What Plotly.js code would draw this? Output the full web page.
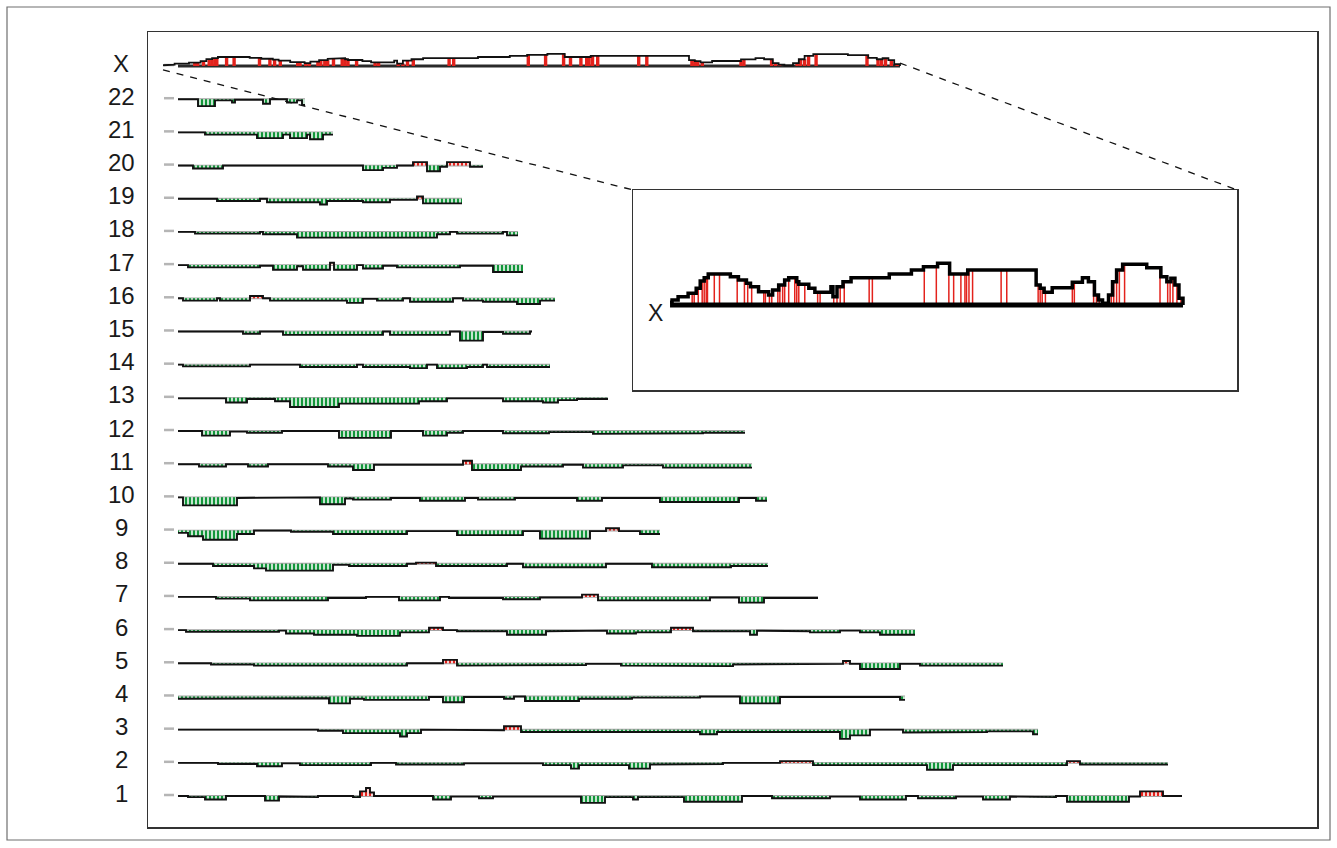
<!DOCTYPE html>
<html><head><meta charset="utf-8">
<script src="https://cdn.plot.ly/plotly-3.0.1.min.js"></script>
<style>html,body{margin:0;padding:0;background:#fff}#chart{width:1337px;height:848px}</style>
</head><body><div id="chart"></div>
<script>
// ---------- data ----------
const chromLabels = ['1','2','3','4','5','6','7','8','9','10','11','12','13','14','15','16','17','18','19','20','21','22','X'];
const chromLengths = [1019,1005,875,742,840,752,655,605,497,604,589,582,445,387,369,392,362,357,299,320,170,142,737];

// autosome profiles: breakpoints (position) and deviation per segment (+ below / - above)
const chr1Pos = [15,25,42,63,102,116,123,155,190,197,203,207,211,270,288,316,330,418,442,470,475,521,579,609,667,697,743,755,793,820,847,866,893,904,966,977,1000,1019];
const chr1Dep = [0,1,3,0,4,0.5,1,0,1,-4,-7,-3,0,3,0.5,2,0.5,6,1,3,1,5,0,2,0.5,3,0,2,0.5,3,0.5,1,0,5,0.5,-4,0];
const chr2Pos = [15,55,94,119,137,208,233,301,380,408,416,466,487,544,560,617,650,764,790,904,917,1005];
const chr2Dep = [0,1,3,0.5,2,0,1.5,0.5,2,5,2,5,1.5,1,0,-1.5,2,6,2,-1.5,1.5];
const chr3Pos = [15,94,119,155,180,237,244,258,301,341,358,537,554,677,687,707,740,790,824,870,875];
const chr3Dep = [0,0.5,0,1,3,6,3,0,0.5,-3,2,4,2,8,5,0,2.5,2,1.5,4];
const chr4Pos = [15,60,166,187,201,266,280,301,341,351,362,416,469,537,577,617,737,742];
const chr4Dep = [2,1.5,6,2,3,0.5,5,0.5,2,0,4,2,1,0,6,0.5,3];
const chr5Pos = [15,48,91,244,280,294,380,423,458,537,570,637,680,687,697,737,757,840];
const chr5Dep = [0,1,2,0,-3,2,1.5,0.5,2,2.5,1,0.5,-2,0.5,5,0.5,2];
const chr6Pos = [15,23,116,123,151,194,237,266,280,294,344,383,408,444,473,508,530,587,594,617,647,677,697,717,752];
const chr6Dep = [0,1.5,0.5,3,4,5,2,-2,0,1,4,1,0.5,3,2,-2,1,4,0.5,1,2,0.5,2,4];
const chr7Pos = [15,53,87,165,203,236,277,286,340,377,419,435,547,576,601,655];
const chr7Dep = [0,1.5,3,1,0,3,0,1,2,0.5,-2,3,0.5,5,1];
const chr8Pos = [15,50,91,103,170,186,244,253,273,344,360,443,489,568,605];
const chr8Dep = [0,2,4,6,1,2,0,-1,2,0,3,0,3,2];
const chr9Pos = [15,25,40,74,91,128,170,244,294,360,377,427,443,456,477,497];
const chr9Dep = [2,5,8,3,0,1,3,0.5,4,0.5,7,0.5,-2,0.5,3];
const chr10Pos = [15,20,74,145,157,182,190,228,257,302,315,352,414,439,497,576,593,604];
const chr10Dep = [0,7,0.5,0,6,1,2,0.5,3,0.5,2,0.5,3,0.5,4,0.5,3];
const chr11Pos = [15,36,63,85,105,165,190,211,300,309,358,400,420,460,500,589];
const chr11Dep = [0,2,0,2,0,2,5,0.5,-3,5,2,0.5,3,1,3];
const chr12Pos = [15,39,67,84,119,176,228,260,284,300,340,386,430,487,540,582];
const chr12Dep = [0,4,0.5,1.5,0,6,0,4,1.5,0,2,1,2.5,2,1.5];
const chr13Pos = [15,63,84,112,127,176,256,284,340,380,395,414,445];
const chr13Dep = [0.5,4,1,3,8,5,3,0.5,3,4,2,1];
const chr14Pos = [15,20,87,137,194,200,247,264,274,304,320,324,387];
const chr14Dep = [0,1.5,0,2,0,2,3,0,3,2,0,2];
const chr15Pos = [15,80,97,120,220,227,287,297,320,340,367,369];
const chr15Dep = [0,2,0,3,0,3,0,8,0.5,2,0];
const chr16Pos = [15,20,54,57,87,100,107,184,200,214,240,247,290,300,320,354,377,392];
const chr16Dep = [0,2,0,2,-2,0,2,4,0.5,2,0,3,0,2,3,5,2];
const chr17Pos = [15,25,97,110,134,140,167,171,194,200,220,234,297,330,360];
const chr17Dep = [0,2,0.5,4,1,4,-2,4,0,3,0.5,2,0.5,6];
const chr18Pos = [15,32,97,100,134,274,287,294,340,344,355];
const chr18Dep = [0,1.5,0,2,5,2,0,1.5,0,3];
const chr19Pos = [15,54,97,104,157,164,200,227,254,260,299];
const chr19Dep = [0,2,0,3,5,2,3,1,-2,4];
const chr20Pos = [15,30,60,200,220,234,250,264,277,284,307,320];
const chr20Dep = [0,2.5,0,4,2,0,-3,5,1,-3,1];
const chr21Pos = [15,42,94,120,127,144,147,160,170];
const chr21Dep = [0,2,5,2,5,2,6,2];
const chr22Pos = [15,35,52,69,72,100,107,124,134,139,142];
const chr22Dep = [0,6,1,3,0.5,4,0,3,1,5];

// chromosome X profile (heights) and red marker positions
const chrXPos = [0,2.9,11.6,26,37.6,43.4,49.1,54.9,86.7,98.3,109.8,115.6,127.2,141.6,147.4,156.1,164.7,170.5,182.1,185,199.4,208.1,231.2,234.1,239.9,248.5,260.1,315,346.8,364.1,384.4,401.7,427.7,526,531.8,537.5,549.1,578,592.5,601.1,609.8,615.6,621.4,630,635.8,641.6,650.3,684.9,705.2,713.8,719.6,725.4,731.2,737];
const chrXHeight = [2.7,5,8.3,11.7,16.7,24,27.3,31,28.3,25,21.7,18.3,13.3,10,15,20,25,27.3,23.3,20.7,16.7,12.7,18.3,8.3,18.3,23.3,27.3,31,35,38.3,41.7,31,35,20,16.7,12.7,17.3,22.7,27.3,23.3,10,5,1.7,10,23.3,35,40.7,37.3,28.3,23.3,26.7,20,6.7];
const chrXRed = [31.8,34.7,40.5,46.2,49.1,52,53.8,63.6,71.1,96.5,106.9,111.6,117.3,134.7,137,142.8,146.2,154.9,157.8,161.8,164.7,170.5,179.2,182.1,185,193.6,212.1,215.6,235.2,239.9,244.5,250.3,286.1,290.7,365.3,382.6,400.6,407.5,417.9,423.7,426,429.5,434.7,475.7,483.8,528.9,531.8,534.7,539.3,578,580.9,608.6,612.7,616.7,634.1,637.5,641.6,645.6,653.1,704,715,718.5,722.5,728.3,734.1];

const profilePos = [chr1Pos,chr2Pos,chr3Pos,chr4Pos,chr5Pos,chr6Pos,chr7Pos,chr8Pos,chr9Pos,chr10Pos,chr11Pos,chr12Pos,chr13Pos,chr14Pos,chr15Pos,chr16Pos,chr17Pos,chr18Pos,chr19Pos,chr20Pos,chr21Pos,chr22Pos];
const profileDep = [chr1Dep,chr2Dep,chr3Dep,chr4Dep,chr5Dep,chr6Dep,chr7Dep,chr8Dep,chr9Dep,chr10Dep,chr11Dep,chr12Dep,chr13Dep,chr14Dep,chr15Dep,chr16Dep,chr17Dep,chr18Dep,chr19Dep,chr20Dep,chr21Dep,chr22Dep];

// ---------- styling constants ----------
const GREEN = '#12963a', RED = '#e3221c';
const rowPx = 33.18;              // pixel height of one row
const depScale = 1.15 / rowPx;    // deviation unit -> row units
const xMainScale = 0.29 / rowPx;  // X height -> row units in main panel
const rowX = 23;

// ---------- build traces ----------
const base = {x: [], y: []}, prof = {x: [], y: []}, grn = {x: [], y: []}, red = {x: [], y: []}, pter = {x: [], y: []};
for (let c = 0; c < 22; c++) {
  const row = c + 1, P = profilePos[c], D = profileDep[c];
  const n = Math.min(P.length - 1, D.length);
  base.x.push(P[0], P[n], null); base.y.push(row, row, null);
  pter.x.push(1, 11, null); pter.y.push(row + 0.03, row + 0.03, null);
  for (let i = 0; i < n; i++) {
    const a = P[i], b = P[i + 1], yy = row - D[i] * depScale;
    prof.x.push(a, b); prof.y.push(yy, yy);
    if (D[i] !== 0) {
      const t = D[i] > 0 ? grn : red;
      t.x.push(a, b, b, a, a, null); t.y.push(row, row, yy, yy, row, null);
    }
  }
  prof.x.push(null); prof.y.push(null);
}
pter.x.push(1, 11, null); pter.y.push(rowX + 0.03, rowX + 0.03, null);

function hAt(p) {
  for (let i = 0; i < chrXHeight.length; i++) if (p >= chrXPos[i] && p <= chrXPos[i + 1]) return chrXHeight[i];
  return 0;
}
const xStep = {x: [], y: []};
for (let i = 0; i < chrXHeight.length; i++) { xStep.x.push(chrXPos[i], chrXPos[i + 1]); xStep.y.push(chrXHeight[i], chrXHeight[i]); }
xStep.x.push(chrXPos[chrXPos.length - 1]); xStep.y.push(0);
const xRedL = {x: [], y: []};
chrXRed.forEach(p => { xRedL.x.push(p, p, null); xRedL.y.push(0, hAt(p), null); });
const xEnd = chromLengths[22];

const traces = [
  {x: base.x, y: base.y, mode: 'lines', line: {color: '#a3a3a3', width: 1.8}, hoverinfo: 'skip'},
  {x: pter.x, y: pter.y, mode: 'lines', line: {color: '#b5b5b5', width: 2.5}, hoverinfo: 'skip'},
  {x: grn.x, y: grn.y, mode: 'lines', fill: 'toself', line: {width: 0, color: GREEN}, fillcolor: GREEN,
   fillpattern: {shape: '|', fgcolor: GREEN, bgcolor: '#ffffff', size: 4, solidity: 0.62}, hoverinfo: 'skip'},
  {x: red.x, y: red.y, mode: 'lines', fill: 'toself', line: {width: 0, color: RED}, fillcolor: RED,
   fillpattern: {shape: '|', fgcolor: RED, bgcolor: '#ffffff', size: 4, solidity: 0.6}, hoverinfo: 'skip'},
  {x: prof.x, y: prof.y, mode: 'lines', line: {color: '#111', width: 1.9}, hoverinfo: 'skip'},
  // X in main panel
  {x: [chrXPos[0] + 15, xEnd], y: [rowX, rowX], mode: 'lines', line: {color: '#2a2a2a', width: 2.8}, hoverinfo: 'skip'},
  {x: xRedL.x, y: xRedL.y.map(v => v === null ? null : rowX + v * xMainScale), mode: 'lines', line: {color: RED, width: 3.4}, hoverinfo: 'skip'},
  {x: xStep.x, y: xStep.y.map(v => rowX + v * xMainScale), mode: 'lines', line: {color: '#111', width: 1.8}, hoverinfo: 'skip'},
  // inset
  {x: xRedL.x, y: xRedL.y, xaxis: 'x2', yaxis: 'y2', mode: 'lines', line: {color: RED, width: 1.5}, hoverinfo: 'skip'},
  {x: [chrXPos[0], xEnd], y: [0, 0], xaxis: 'x2', yaxis: 'y2', mode: 'lines', line: {color: '#000', width: 5}, hoverinfo: 'skip'},
  {x: xStep.x, y: xStep.y, xaxis: 'x2', yaxis: 'y2', mode: 'lines', line: {color: '#000', width: 3.5}, hoverinfo: 'skip'}
];

// ---------- layout ----------
const W = 1337, H = 848;
const xDom = [148 / W, 1317 / W], yDom = [21 / H, 816 / H];
const xRange = [-15, 1154], yRange = [0.066, 24.025];
const x2Dom = [633 / W, 1237 / W], y2Dom = [458 / H, 658 / H];
const x2Range = [-53.2, 814.6], y2Range = [-85, 115];
const toP = (v, r, d) => d[0] + (v - r[0]) / (r[1] - r[0]) * (d[1] - d[0]);

const axCommon = {showgrid: false, zeroline: false, showticklabels: false, ticks: '', showline: true, mirror: true,
  linecolor: '#333', linewidth: 1.5, fixedrange: true};

const annotations = chromLabels.map((lab, i) => ({
  xref: 'paper', yref: 'y', x: 121 / W, y: i + 1, text: lab, showarrow: false, xanchor: 'center', yanchor: 'middle', yshift: 3,
  font: {family: 'Liberation Sans, Arial, sans-serif', size: 24, color: '#1a1a1a'}
}));
annotations.push({xref: 'x2', yref: 'y2', x: -21.5, y: -8, text: 'X', showarrow: false, xanchor: 'center', yanchor: 'middle',
  font: {family: 'Liberation Sans, Arial, sans-serif', size: 23, color: '#1a1a1a'}});

const shapes = [
  {type: 'rect', xref: 'paper', yref: 'paper', x0: 7 / W, x1: 1330 / W, y0: 8 / H, y1: 841 / H, line: {color: '#6f6f6f', width: 1.2}},
  {type: 'line', xref: 'paper', yref: 'paper',
   x0: toP(0, xRange, xDom), y0: toP(rowX - 0.12, yRange, yDom), x1: x2Dom[0], y1: y2Dom[1],
   line: {color: '#111', width: 1.3, dash: '7px,7px'}},
  {type: 'line', xref: 'paper', yref: 'paper',
   x0: toP(xEnd, xRange, xDom), y0: toP(rowX + 0.09, yRange, yDom), x1: x2Dom[1], y1: y2Dom[1],
   line: {color: '#111', width: 1.3, dash: '7px,7px'}}
];

const layout = {
  width: W, height: H, margin: {l: 0, r: 0, t: 0, b: 0}, showlegend: false,
  paper_bgcolor: '#fff', plot_bgcolor: '#fff',
  xaxis: Object.assign({}, axCommon, {domain: xDom, range: xRange}),
  yaxis: Object.assign({}, axCommon, {domain: yDom, range: yRange}),
  xaxis2: Object.assign({}, axCommon, {domain: x2Dom, range: x2Range, anchor: 'y2'}),
  yaxis2: Object.assign({}, axCommon, {domain: y2Dom, range: y2Range, anchor: 'x2'}),
  annotations: annotations, shapes: shapes
};
Plotly.newPlot('chart', traces, layout, {displayModeBar: false, staticPlot: true});
</script></body></html>
